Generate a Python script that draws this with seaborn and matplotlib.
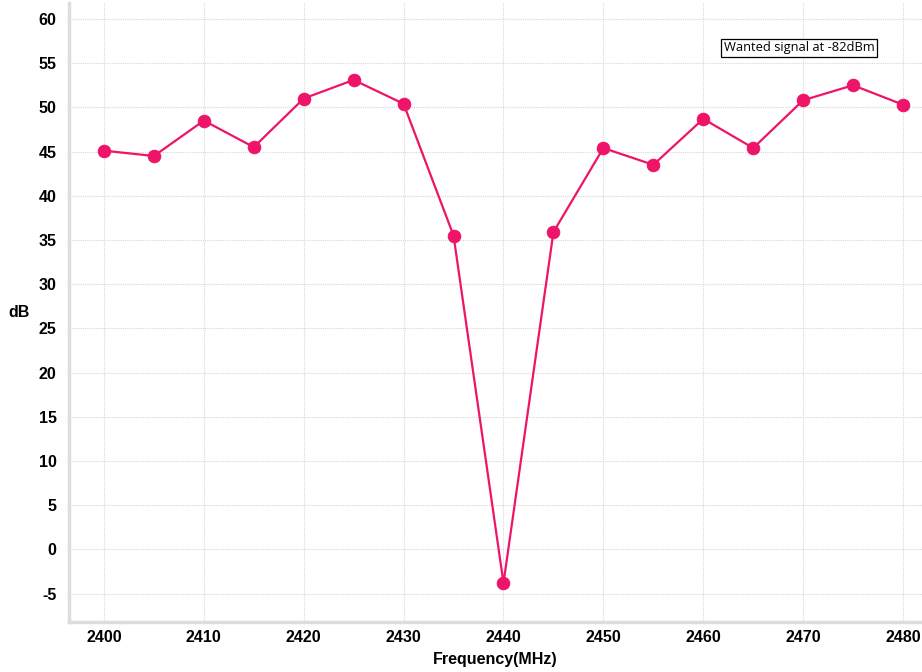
import matplotlib
matplotlib.use("Agg")
import matplotlib.pyplot as plt
import seaborn as sns
import pandas as pd

freq = [2400, 2405, 2410, 2415, 2420, 2425, 2430, 2435, 2440, 2445,
        2450, 2455, 2460, 2465, 2470, 2475, 2480]
db = [45.1, 44.5, 48.5, 45.5, 51.0, 53.1, 50.4, 35.5, -3.8, 35.9,
      45.4, 43.5, 48.7, 45.4, 50.8, 52.5, 50.3]
x_ticks = [2400, 2410, 2420, 2430, 2440, 2450, 2460, 2470, 2480]
y_ticks = [-5, 0, 5, 10, 15, 20, 25, 30, 35, 40, 45, 50, 55, 60]

sns.set_theme(style="white")
plt.rcParams['font.family'] = ['Liberation Sans', 'DejaVu Sans']
plt.rcParams['text.color'] = 'black'
plt.rcParams['axes.labelcolor'] = 'black'
plt.rcParams['xtick.labelcolor'] = 'black'
plt.rcParams['ytick.labelcolor'] = 'black'

df = pd.DataFrame({"freq": freq, "db": db})
fig = plt.figure(figsize=(9.22, 6.72), dpi=100)
ax = fig.add_axes([69/922, 50/672, (922-69)/922, (622-3)/672])

color = "#EE1467"
sns.lineplot(data=df, x="freq", y="db", ax=ax, color=color, linewidth=1.6,
             marker="o", markersize=9, markeredgecolor=color, markerfacecolor=color)

ax.set_xlim(2396.5, 2481.9)
ax.set_ylim(-8.2, 61.8)
ax.set_xticks(x_ticks)
ax.set_yticks(y_ticks)
ax.set_xticklabels([str(t) for t in x_ticks], fontsize=11.5, fontweight="bold", color="black")
ax.set_yticklabels([str(t) for t in y_ticks], fontsize=11.5, fontweight="bold", color="black")
ax.grid(True, color="#d8d8d8", linestyle=(0, (1, 1)), linewidth=0.8)
for s in ["top", "right"]:
    ax.spines[s].set_visible(False)
for s in ["left", "bottom"]:
    ax.spines[s].set_color("#dddddd")
    ax.spines[s].set_linewidth(2.5)
ax.tick_params(axis="x", length=3, color="#cccccc", pad=3)
ax.tick_params(axis="y", length=3, color="#cccccc", pad=6)

ax.set_xlabel("Frequency(MHz)", fontsize=11.5, fontweight="bold", labelpad=5, color="black")
ax.set_ylabel("dB", fontsize=11.5, fontweight="bold", rotation=0, labelpad=14, va="center", color="black")

fig.text(799/922, 1 - 48/672, "Wanted signal at -82dBm", fontsize=9.3,
         family=["Open Sans", "DejaVu Sans"], ha="center", va="center", color="black",
         bbox=dict(boxstyle="square,pad=0.2", facecolor="white", edgecolor="black", linewidth=0.9))

fig.savefig("out.png", dpi=100)
